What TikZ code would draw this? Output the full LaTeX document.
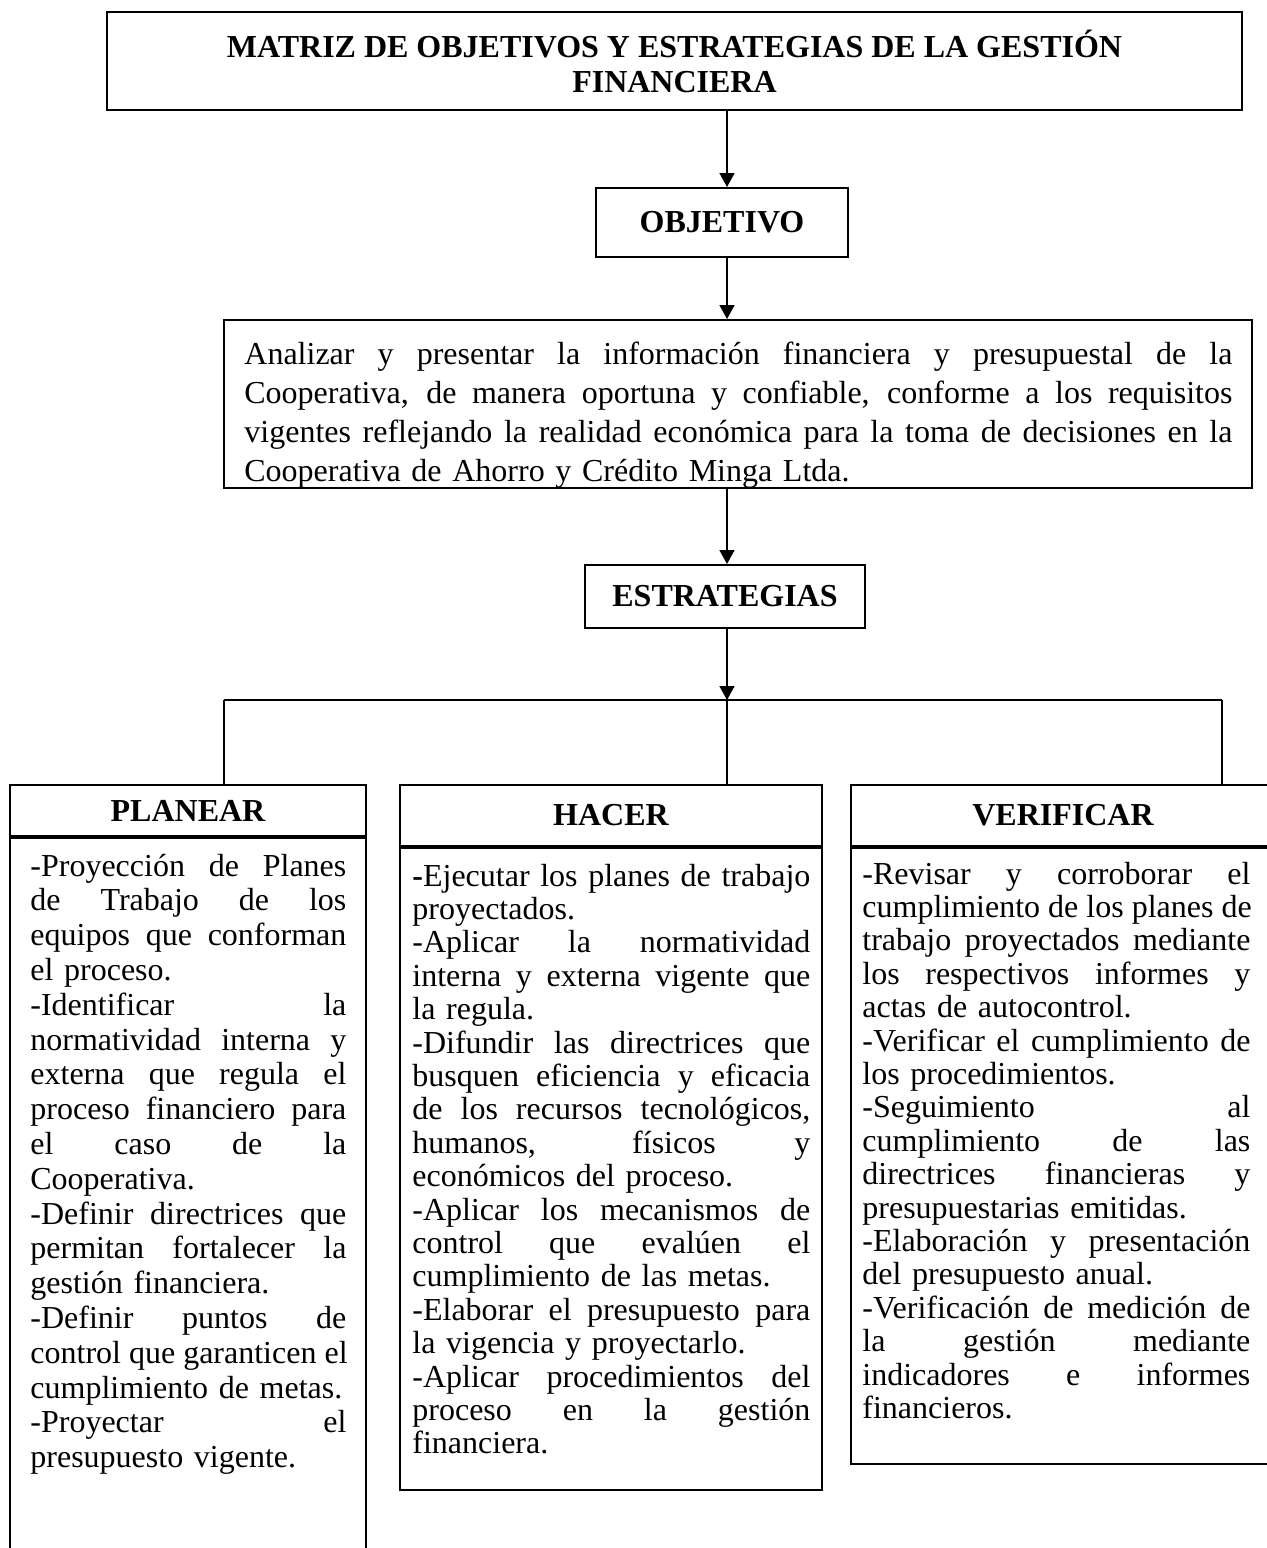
\documentclass[tikz,border=0pt]{standalone}
\usepackage{fontspec}
\setmainfont{Liberation Serif}
\usetikzlibrary{arrows.meta,positioning}

\newcommand\jline[1]{\hbox to\linewidth{\spaceskip=\fontdimen2\font plus 1fil\relax#1}\par}
\newcommand\eline[1]{\hbox to\linewidth{#1\hfil}\par}
\hbadness=10000
\hfuzz=30pt

\begin{document}
\begin{tikzpicture}[x=0.5pt,y=-0.5pt,
  box/.style={draw,line width=1pt,inner sep=0pt},
  head/.style={box,font=\fontsize{16}{17.5}\selectfont\bfseries},
  body/.style={inner sep=0pt,anchor=base west,font=\fontsize{16}{16.7}\selectfont},
  link/.style={line width=0.8pt},
  arr/.style={link,-{Triangle[length=7pt,width=7.5pt]}}]
\useasboundingbox (0,0) rectangle (1267,1548);
\clip (0,0) rectangle (1267,1548);

\coordinate (axis) at (727,0);
\coordinate (busL) at (224,700);
\coordinate (busM) at (727,700);
\coordinate (busR) at (1222,700);

\node[head,minimum width=567.5pt,minimum height=49pt,align=center] (title) at (674.5,61)
  {MATRIZ DE OBJETIVOS Y ESTRATEGIAS DE LA GESTIÓN\\FINANCIERA};
\node[head,minimum width=126pt,minimum height=34.5pt] (objetivo) at (722,222.5) {OBJETIVO};
\node[box,minimum width=514pt,minimum height=84pt] (meta) at (738,404) {};
\begin{scope}
\clip (meta.north west) rectangle (meta.south east);% last line cut by the frame
\node[body,text width=494pt,font=\fontsize{16}{19.65}\selectfont] (metaText) at (244,364) {%
\jline{Analizar y presentar la información financiera y presupuestal de la}
\jline{Cooperativa, de manera oportuna y confiable, conforme a los requisitos}
\jline{vigentes reflejando la realidad económica para la toma de decisiones en la}
\eline{Cooperativa de Ahorro y Crédito Minga Ltda.}};
\end{scope}
\node[head,minimum width=140pt,minimum height=31.5pt] (estrat) at (725,596.5) {ESTRATEGIAS};

\draw[arr] (title.south -| axis) -- (objetivo.north -| axis);
\draw[arr] (objetivo.south -| axis) -- (meta.north -| axis);
\draw[arr] (meta.south -| axis) -- (estrat.north -| axis);
\draw[arr] (estrat.south -| axis) -- (busM);
\draw[line width=1.3pt] (busL) -- (busR);

% the three columns
\node[head,minimum width=178pt,minimum height=25.5pt] (planHead) at (188,810.5) {PLANEAR};
\node[box,below=0pt of planHead,minimum width=178pt,minimum height=382pt] (planBody) {};
\node[head,minimum width=211pt,minimum height=30.5pt] (hacerHead) at (611,815.5) {HACER};
\node[box,below=0pt of hacerHead,minimum width=211pt,minimum height=321pt] (hacerBody) {};
\node[head,minimum width=212pt,minimum height=30.5pt] (verifHead) at (1063,815.5) {VERIFICAR};
\node[box,below=0pt of verifHead,minimum width=212pt,minimum height=308pt] (verifBody) {};

\draw[link] (busL) -- (planHead.north -| busL);
\draw[link] (busM) -- (hacerHead.north -| busM);
\draw[link] (busR) -- (verifHead.north -| busR);

\node[body,text width=158pt,font=\fontsize{16}{17.4}\selectfont] (planText) at (30,876) {%
\jline{-Proyección de Planes}
\jline{de Trabajo de los}
\jline{equipos que conforman}
\eline{el proceso.}
\jline{-Identificar la}
\jline{normatividad interna y}
\jline{externa que regula el}
\jline{proceso financiero para}
\jline{el caso de la}
\eline{Cooperativa.}
\jline{-Definir directrices que}
\jline{permitan fortalecer la}
\eline{gestión financiera.}
\jline{-Definir puntos de}
\jline{control que garanticen el}
\eline{cumplimiento de metas.}
\jline{-Proyectar el}
\eline{presupuesto vigente.}};

\node[body,text width=199pt] (hacerText) at (412,886) {%
\jline{\textbf{-}Ejecutar los planes de trabajo}
\eline{proyectados.}
\jline{-Aplicar la normatividad}
\jline{interna y externa vigente que}
\eline{la regula.}
\jline{-Difundir las directrices que}
\jline{busquen eficiencia y eficacia}
\jline{de los recursos tecnológicos,}
\jline{humanos, físicos y}
\eline{económicos del proceso.}
\jline{-Aplicar los mecanismos de}
\jline{control que evalúen el}
\eline{cumplimiento de las metas.}
\jline{-Elaborar el presupuesto para}
\eline{la vigencia y proyectarlo.}
\jline{-Aplicar procedimientos del}
\jline{proceso en la gestión}
\eline{financiera.}};

\node[body,text width=194pt] (verifText) at (862,884) {%
\jline{-Revisar y corroborar el}
\jline{cumplimiento de los planes de}
\jline{trabajo proyectados mediante}
\jline{los respectivos informes y}
\eline{actas de autocontrol.}
\jline{-Verificar el cumplimiento de}
\eline{los procedimientos.}
\jline{-Seguimiento al}
\jline{cumplimiento de las}
\jline{directrices financieras y}
\eline{presupuestarias emitidas.}
\jline{-Elaboración y presentación}
\eline{del presupuesto anual.}
\jline{-Verificación de medición de}
\jline{la gestión mediante}
\jline{indicadores e informes}
\eline{financieros.}};

\end{tikzpicture}
\end{document}
